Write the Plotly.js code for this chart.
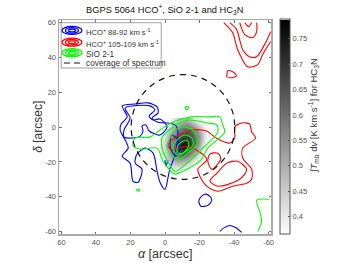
<!DOCTYPE html>
<html><head><meta charset="utf-8">
<script src="https://cdn.plot.ly/plotly-3.0.1.min.js"></script>
<style>html,body{margin:0;padding:0;background:#fff}#c{width:350px;height:263px}</style>
</head><body><div id="c"></div>
<script>
const hcnX=[1.2,-1.1,-3.4,-5.7,-8,-10.3,-12.6,-14.9,-17.2,-19.5,-21.8,-24.1];
const hcnY=[4,1.7,-0.6,-2.9,-5.2,-7.5,-9.8,-12.1,-14.4,-16.7,-19,-21.3,-23.6];
const hcnZ=[
[.37,.37,.38,.42,.46,.48,.50,.46,.40,.38,.37,.37],
[.37,.38,.42,.47,.51,.54,.55,.52,.47,.42,.38,.37],
[.37,.41,.46,.52,.56,.60,.61,.58,.54,.48,.42,.37],
[.38,.44,.50,.55,.60,.63,.65,.63,.58,.52,.44,.38],
[.40,.46,.52,.58,.63,.67,.67,.65,.60,.54,.45,.38],
[.41,.47,.54,.60,.67,.72,.72,.67,.61,.54,.44,.37],
[.42,.48,.55,.62,.70,.76,.75,.68,.60,.52,.42,.37],
[.42,.48,.55,.62,.70,.74,.72,.65,.56,.49,.41,.37],
[.41,.47,.54,.59,.65,.68,.65,.58,.52,.45,.38,.37],
[.40,.46,.51,.55,.59,.60,.57,.52,.47,.41,.37,.37],
[.38,.44,.48,.51,.53,.52,.50,.46,.41,.38,.37,.37],
[.37,.41,.44,.46,.47,.46,.43,.40,.37,.37,.37,.37],
[.37,.38,.40,.41,.41,.40,.38,.37,.37,.37,.37,.37]];
const blueX=[24.8,17.3,9.8,4.6,4,7.5,4.6,-1.7,-5.8,-7.5,-6.9,-5.2,-2.9,-1.7,0,2.9,4.6,6.9,11.5,16.2,17.3,13.3,15.6,18.5,20.2,24.8,21.3,23.1,26,25.4,21.9,24.8,null,
23.1,8.7,5.8,9.2,6.9,2.9,-1.2,2.9,5.8,9.2,11,13.3,12.7,14.4,19,23.7,23.7,20.2,23.1,null,
-4,-7.5,-8.7,-6.3,-3.5,-2.9,-4,null,0,-0.6,-1.7,null,
-20.2,-23.1,-26,-27.1,-24.8,-20.8,-19.6,-20.2,null,-31.7,-34.6,-37.5,-41.5,-44.4];
const blueY=[12.1,13.2,13.8,11.5,8,5.2,2.9,2.3,1.2,-2.9,-10.4,-17.8,-23.6,-29.3,-35.7,-31.6,-25.3,-15,-12.1,-15.5,-20.7,-24.2,-31.6,-31.1,-20.7,-16.7,-12.1,-7.5,-1.7,1.7,5.8,12.1,null,
10.9,12.1,9.8,6.3,4,4.6,0,-4.6,-4,-2.3,1.2,0.6,-2.3,-5.2,-6.3,-5.8,-1.7,5.2,10.9,null,
-4.6,-7.5,-12.1,-16.7,-13.2,-8.6,-4.6,null,-19,-22.4,-19,null,
-40.8,-38.5,-39.7,-42,-44.9,-45.4,-42.6,-40.8,null,-59.8,-57.5,-56.4,-58,-60.4];
const redX=[-34,-39.2,-42.1,-47.9,-53.7,-56.5,-61.2,null,-37.5,-41.5,-45,-49,-53.1,-57.7,-61.2,null,-43.3,-46.2,-50.8,-53.1,-53.1,null,-46.2,-48.5,-50.2,null,
-35.8,-36.4,-39.2,-41.5,-38.7,-35.8,-35.8,null,
-2.9,-5.8,-11.5,-15.6,-21.3,-24.2,-30.6,-37.5,-40.4,-40.4,-44.4,-49,-50.2,-52.5,-45,-45,-50.2,-50.2,-47.3,-39.2,-30.6,-24.2,-20.2,-19,-24.2,-23.1,-13.3,-7.5,-4,-1.7,-2.9,null,
-26,-30,-35.8,-42.1,-47.3,-46.2,-41.5,-30.6,-26,null,-26,-30.6,-32.3,-27.1,-24.8,-26];
const redY=[59.8,54,44.3,34.5,35.7,41.4,48.9,null,59.8,55.8,44.3,40.3,40.3,47.2,54.6,null,59.8,52.9,51.2,54.6,59.8,null,59.8,57.5,59.8,null,
29.9,32.2,31.6,29.3,28.2,28.8,29.9,null,
-8.6,-5.8,-3.5,-1.7,-1.7,-2.3,-6.9,-9.2,-6.3,0,2.3,1.7,-2.9,-6.3,-12.1,-17.8,-24.2,-29.9,-32.2,-33.9,-36.8,-33.9,-28.2,-24.2,-19,-16.7,-10.9,-12.1,-13.2,-10.9,-8.6,null,
-31,-26.5,-20.7,-19.6,-24.2,-27,-31,-33.9,-31,null,-15.5,-15,-18.4,-24.2,-19.6,-15.5];
const greenX=[-4.6,-15.6,-24.8,-31.7,-33.5,-34.6,-24.8,-20.2,-5.8,-4.6,1.2,4.6,14.4,18.5,17.3,8.7,2.9,-4.6,null,
-4.6,-5.8,-13.3,-24.8,-30,-30.6,-21.9,-17.3,-5.8,-1.2,1.7,1.7,-4.6,null,
-2.9,-8.7,-16.2,-19,-13.3,-7.5,-2.9,-1.2,-2.9,null,
-4.6,-6.9,-11.5,-15.6,-16.2,-10.4,-6.9,-4.6,null,
-6.9,-8.7,-12.7,-13.8,-10.4,-7.5,-6.9,null,
-11.5,-13.8,-12.7,-11.5,null,16.2,14.9,14.9,16.2,16.2,null,-60.6,-53.1,-54.8,-56,-53.7];
const greenY=[2.9,5.8,5.8,5.8,1.2,-2.9,-12.1,-19.6,-27,-26.5,-19.6,-12.1,-12.7,-10.9,-6.3,-5.8,-1.7,2.9,null,
0,1.2,4,2.3,1.2,-2.9,-12.1,-16.7,-25.3,-19,-12.1,-5.8,0,null,
-6.3,0,-1.7,-9.2,-15,-19,-15,-11.5,-6.3,null,
-11.5,-7.5,-4.6,-6.3,-10.4,-15,-16.1,-11.5,null,
-12.1,-9.2,-7.5,-10.4,-15,-15,-12.1,null,
11.5,11.5,9.8,11.5,null,-35.8,-35.8,-36.6,-36.6,-35.8,null,-41.4,-42,-48.3,-54,-59.8];
const circleCentre=[-10.4,0];
const circleRadius=30;
const axisTicks=[60,40,20,0,-20,-40,-60];
const axisLabels=['60','40','20','0','-20','-40','-60'];
const barTicks=[0.4,0.45,0.5,0.55,0.6,0.65,0.7,0.75];
const barLabels=['0.4','0.45','0.5','0.55','0.6','0.65','0.7','0.75'];
const legendLabels=['HCO<sup>+</sup> 88-92 km s<sup>-1</sup>','HCO<sup>+</sup> 105-109 km s<sup>-1</sup>','SiO 2-1','coverage of spectrum'];
const legendColors=['#0000ff','#ff0000','#00ff00'];

const W=350,H=263,L=59,R=271.5,T=20.3,B=234.3;
const px=x=>(x-L)/(R-L), py=y=>(B-y)/(B-T);
const FF='"Liberation Sans",Arial,sans-serif';
const line=(x,y,c)=>({type:'scatter',mode:'lines',x,y,hoverinfo:'skip',showlegend:false,line:{color:c,width:1.1,shape:'spline',smoothing:0.8},connectgaps:false});
const data=[
 {type:'heatmap',x:hcnX,y:hcnY,z:hcnZ,zmin:0.365,zmax:0.7875,zsmooth:'best',
  colorscale:[[0,'#ffffff'],[1,'#000000']],
  colorbar:{x:(280.3-L)/(R-L),xanchor:'left',xpad:0,ypad:0,y:0.5,yanchor:'middle',len:1.003,thickness:10.4,
   outlinecolor:'#555',outlinewidth:1,ticks:'inside',ticklen:2,tickcolor:'#555',tickmode:'array',
   tickvals:barTicks,ticktext:barLabels,tickfont:{family:FF,size:7.5,color:'#555'}}},
 line(blueX,blueY,'#0000ff'),
 line(redX,redY,'#ff0000'),
 line(greenX,greenY,'#00ff00')
];
const axis={ticks:'inside',ticklen:2.5,tickcolor:'#777',tickwidth:1,showline:true,mirror:'ticks',linecolor:'#aaa',linewidth:1.5,
 showgrid:false,zeroline:false,tickmode:'array',tickvals:axisTicks,ticktext:axisLabels,tickfont:{family:FF,size:7.5,color:'#555'}};
const shapes=[
 {type:'circle',xref:'x',yref:'y',x0:circleCentre[0]-circleRadius,x1:circleCentre[0]+circleRadius,
  y0:circleCentre[1]-circleRadius,y1:circleCentre[1]+circleRadius,line:{color:'#111',width:1.2,dash:'6px,5px'}},
 {type:'rect',xref:'paper',yref:'paper',x0:px(61.2),x1:px(161.5),y0:py(68.3),y1:py(23),fillcolor:'#fff',line:{color:'#888',width:0.8}}
];
const rows=[30.7,42.5,53];
rows.forEach((cy,i)=>{[[10,4],[6.5,2.7],[3.5,1.4]].forEach(([rx,ry])=>{
 shapes.push({type:'circle',xref:'paper',yref:'paper',x0:px(72-rx),x1:px(72+rx),y0:py(cy+ry),y1:py(cy-ry),line:{color:legendColors[i],width:1.3}});
});});
shapes.push({type:'line',xref:'paper',yref:'paper',x0:px(64),x1:px(82),y0:py(63.3),y1:py(63.3),line:{color:'#111',width:1.2,dash:'6px,4px'}});
const ann=legendLabels.map((t,i)=>({xref:'paper',yref:'paper',x:px(84.5),y:py([32.5,44,54,63.5][i]),xanchor:'left',yanchor:'middle',
 showarrow:false,text:t,font:{family:FF,size:i<2?7.6:8.3,color:'#333'}}));
ann.push({xref:'paper',yref:'paper',x:px(314),y:py(116),xanchor:'center',yanchor:'middle',textangle:-90,showarrow:false,
 text:'<i>∫T</i><sub>mb</sub> d<i>v</i> [K km s<sup>-1</sup>] for HC<sub>3</sub>N',font:{family:FF,size:9.5,color:'#333'}});
ann.push({xref:'paper',yref:'paper',x:px(38),y:py(127),xanchor:'center',yanchor:'middle',textangle:-90,showarrow:false,
 text:'<i>δ</i> [arcsec]',font:{family:FF,size:12,color:'#333'}});
ann.push({xref:'paper',yref:'paper',x:px(165),y:py(254),xanchor:'center',yanchor:'middle',showarrow:false,
 text:'<i>α</i> [arcsec]',font:{family:FF,size:12.5,color:'#333'}});
const layout={width:W,height:H,margin:{l:L,r:W-R,t:T,b:H-B,pad:0},paper_bgcolor:'#fff',plot_bgcolor:'#fff',showlegend:false,
 title:{text:'BGPS 5064 HCO<sup>+</sup>, SiO 2-1 and HC<sub>3</sub>N',font:{family:FF,size:9.3,color:'#111'},x:px(165),xref:'paper',xanchor:'center',y:1-10/H,yanchor:'middle'},
 xaxis:Object.assign({},axis,{range:[61.4,-61.4]}),
 yaxis:Object.assign({},axis,{range:[-61.3,61.3]}),
 shapes,annotations:ann};
Plotly.newPlot('c',data,layout,{staticPlot:true,displayModeBar:false});
</script></body></html>
